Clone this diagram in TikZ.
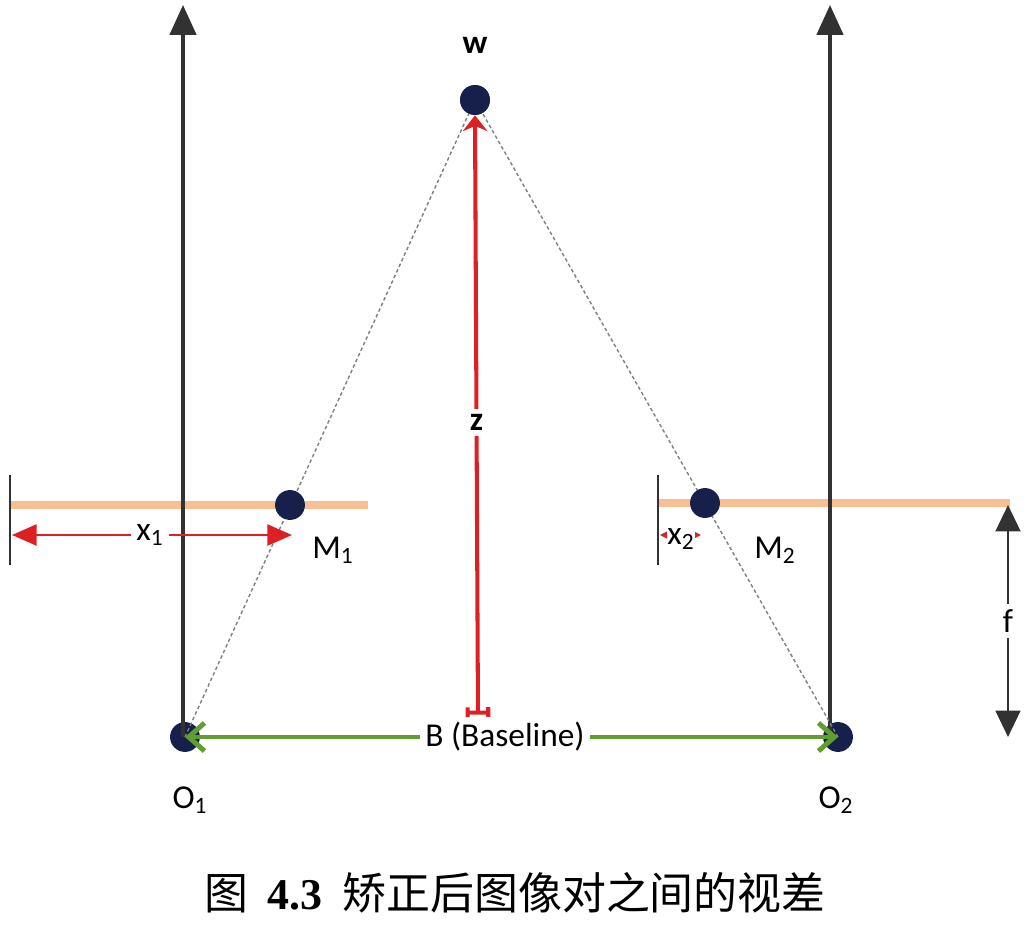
\documentclass[tikz,border=0pt]{standalone}
\usepackage{fontspec}
\setmainfont{Carlito}
\newfontfamily\cjk{Noto Sans CJK SC}
\newfontfamily\capnum{Liberation Serif}
\usetikzlibrary{arrows.meta}
\usetikzlibrary{positioning}

\definecolor{navy}{RGB}{22,32,74}
\definecolor{axisgray}{RGB}{50,50,50}
\definecolor{planeorange}{RGB}{246,192,146}
\definecolor{zred}{RGB}{222,32,36}
\definecolor{bgreen}{RGB}{96,158,48}

\tikzset{
  dot/.style={circle, fill=navy, inner sep=0pt, minimum size=17pt},
  lbl/.style={font=\fontsize{19}{22}\selectfont, text=black, inner sep=1pt},
  gap/.style={lbl, fill=white, inner sep=3pt},
  axis/.style={axisgray, line width=1.9pt, -{Triangle[length=17pt,width=15pt]}},
  plane/.style={planeorange, line width=4.5pt},
  tick/.style={axisgray, line width=1.7pt},
  ray/.style={gray, line width=0.8pt, dash pattern=on 2pt off 1.5pt},
}

\begin{document}
\begin{tikzpicture}[x=0.02cm, y=-0.02cm]
  \useasboundingbox (0,0) rectangle (1036,930);

  % camera centres, scene point and image points
  \coordinate (O1top) at (183,5);
  \coordinate (O2top) at (830,5);
  \coordinate (L1a) at (10,505);
  \coordinate (L1b) at (368,505);
  \coordinate (L2a) at (658,503);
  \coordinate (L2b) at (1010,503);
  \coordinate (T1a) at (10,475);
  \coordinate (T1b) at (10,565);
  \coordinate (T2a) at (658,475);
  \coordinate (T2b) at (658,565);
  \coordinate (X1a) at (12,535);
  \coordinate (X1b) at (292,535);
  \coordinate (X2a) at (660,535);
  \coordinate (X2b) at (701,535);
  \coordinate (Fa) at (1008,505);
  \coordinate (Fb) at (1008,737);
  \coordinate (Zb) at (478,718);

  % image planes
  \draw [plane] (L1a) -- (L1b);
  \draw [plane] (L2a) -- (L2b);
  \draw [tick] (T1a) -- (T1b);
  \draw [tick] (T2a) -- (T2b);

  \node [dot] (O1) at (185,737) {};
  \node [dot] (O2) at (838,737) {};
  \node [dot] (W) at (475,100) {};

  % optical axes
  \draw [axis] (183,737) -- (O1top);
  \draw [axis] (830,737) -- (O2top);

  % projection rays
  \draw [ray] (O1.center) -- (W.center);
  \draw [ray] (O2.center) -- (W.center);

  \node [dot] (M1) at (290,505) {};
  \node [dot] (M2) at (705,503) {};

  % depth
  \draw [zred, line width=2.3pt, {Stealth[length=9pt,width=14pt]}-{Tee Barb[width=14pt]}]
    (W.south) -- (Zb) node [gap, pos=0.51] (lz) {\bfseries z};
  \node [dot] at (W) {};

  % disparities
  \draw [zred, line width=1.1pt, {Triangle[length=14pt,width=12pt]}-{Triangle[length=14pt,width=12pt]}]
    (X1a) -- (X1b);
  \node [gap] (lx1) at (150,535) {x\textsubscript{1}};
  \draw [zred, line width=1pt, {Triangle[length=7pt,width=7pt]}-{Triangle[length=7pt,width=7pt]}]
    (X2a) -- (X2b);
  \node [lbl, fill=white, inner sep=0pt] (lx2) at (681,539) {x\textsubscript{2}};

  % focal length
  \draw [axisgray, line width=1.7pt, {Triangle[length=15pt,width=14pt]}-{Triangle[length=15pt,width=14pt]}]
    (Fa) -- (Fb) node [gap, pos=0.5] (lf) {f};

  % baseline
  \draw [bgreen, line width=2.8pt, {Straight Barb[length=9pt,width=16pt]}-{Straight Barb[length=9pt,width=16pt]}]
    (O1.center) -- (O2.center) node [gap, pos=0.49] (lB) {B (Baseline)};

  % labels
  \node [lbl] (lW) at (475,45) {\bfseries w};
  \node [lbl] (lM1) at (333,550) {M\textsubscript{1}};
  \node [lbl] (lM2) at (775,550) {M\textsubscript{2}};
  \node [lbl] (lO1) at (190,800) {O\textsubscript{1}};
  \node [lbl] (lO2) at (836,800) {O\textsubscript{2}};

  \node (cap) at (515,893) {\fontsize{25}{29}\selectfont\cjk 图\ \ {\capnum\bfseries 4.3}\ \ 矫正后图像对之间的视差};
\end{tikzpicture}
\end{document}
